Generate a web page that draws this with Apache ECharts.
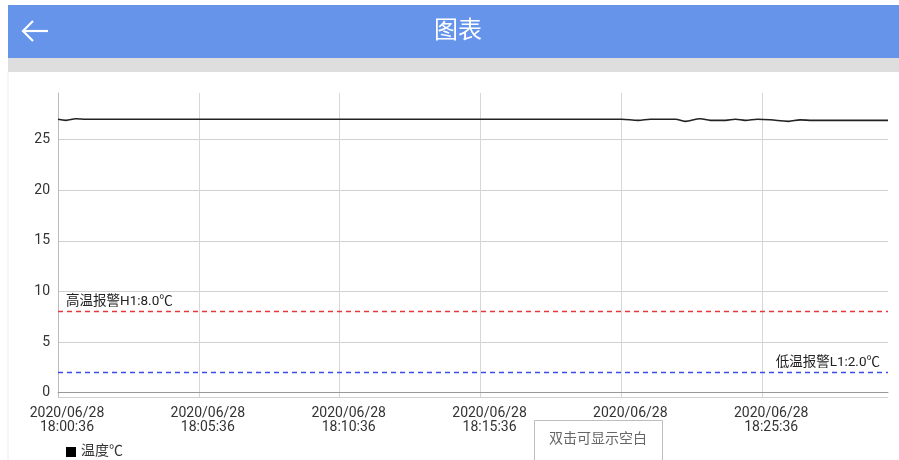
<!DOCTYPE html>
<html>
<head>
<meta charset="utf-8">
<script src="https://cdn.jsdelivr.net/npm/echarts@6/dist/echarts.min.js"></script>
<style>
html,body{margin:0;padding:0;background:#fff;}
#c{width:899px;height:460px;}
</style>
</head>
<body>
<div id="c"></div>
<script>
// ---- data ----
var dateStr = '2020/06/28';
var times = ['18:00:36','18:00:53','18:01:14','18:01:35','18:05:36','18:10:36','18:15:36','18:20:36','18:21:12','18:21:38','18:22:31','18:22:52','18:23:24','18:23:46','18:24:18','18:24:39','18:25:00','18:25:26','18:25:53','18:26:32','18:26:57','18:27:23','18:30:04'];
var temps = [27.0,26.9,27.05,27.0,27.0,27.0,27.0,27.0,26.9,27.0,27.0,26.8,27.05,26.9,26.9,27.0,26.9,27.0,26.95,26.8,26.95,26.9,26.9];
var highAlarm = 8.0;
var lowAlarm = 2.0;
var yTickLabels = ['0','5','10','15','20','25'];
var xStart = '18:00:36';
var xEnd = '18:30:04';

function toMs(t){
  var p = t.split(':').map(Number);
  return Date.UTC(2020,5,28,p[0],p[1],p[2]);
}
function pad(n){return (n<10?'0':'')+n;}
function fmt(ms){
  var d = new Date(ms);
  return dateStr + '\n' + pad(d.getUTCHours())+':'+pad(d.getUTCMinutes())+':'+pad(d.getUTCSeconds());
}
var seriesData = times.map(function(t,i){return [toMs(t), temps[i]];});

var FONT = "Roboto, 'Noto Sans CJK SC', sans-serif";
var chart = echarts.init(document.getElementById('c'));
chart.setOption({
  animation:false,
  backgroundColor:'#fff',
  textStyle:{fontFamily:FONT},
  grid:{left:58,right:11,top:93,bottom:63,containLabel:false},
  legend:{
    left:61, top:440, icon:'rect', itemWidth:10, itemHeight:10, itemGap:6,
    textStyle:{fontSize:14,color:'#333',fontFamily:FONT},
    data:[{name:'温度℃', itemStyle:{color:'#000'}}]
  },
  xAxis:{
    type:'value',
    min:toMs(xStart), max:toMs(xEnd), interval:300000,
    axisLine:{show:true,lineStyle:{color:'#999',width:1}},
    axisTick:{show:false},
    splitLine:{show:true,showMaxLine:false,lineStyle:{color:'#d6d6d6',width:1}},
    axisLabel:{
      show:true, margin:9, showMaxLabel:false,
      fontSize:14, color:'#333', lineHeight:14, fontFamily:FONT,
      padding:[0,0,0,18],
      formatter:function(v){return fmt(v);}
    }
  },
  yAxis:{
    type:'value', min:-0.43, max:29.6,
    axisLine:{show:true,lineStyle:{color:'#bbb'}},
    axisTick:{show:false},
    splitLine:{show:true,showMaxLine:false,lineStyle:{color:'#d0d0d0',width:1}},
    axisLabel:{
      margin:8, fontSize:14, color:'#333', fontFamily:FONT,
      showMinLabel:false, showMaxLabel:false,
      formatter:function(v){
        var s = String(Math.round(v));
        return (Math.abs(v-Math.round(v))<1e-6 && yTickLabels.indexOf(s)>=0) ? s : '';
      }
    }
  },
  series:[{
    name:'温度℃', type:'line', data:seriesData,
    showSymbol:false, smooth:0.35,
    itemStyle:{color:'#000'},
    lineStyle:{color:'#222',width:1.6},
    markLine:{
      silent:true, symbol:'none',
      data:[
        {yAxis:highAlarm,
         lineStyle:{color:'#e8363a',type:[5,4],width:1.4},
         label:{show:true,position:'insideStartTop',distance:[8,3],formatter:'高温报警H1:'+highAlarm.toFixed(1)+'℃',color:'#222',fontSize:13.5,fontFamily:FONT}},
        {yAxis:lowAlarm,
         lineStyle:{color:'#3d4ee8',type:[5,4],width:1.4},
         label:{show:true,position:'insideEndTop',distance:[8,3],formatter:'低温报警L1:'+lowAlarm.toFixed(1)+'℃',color:'#222',fontSize:13.5,fontFamily:FONT}}
      ]
    }
  }],
  graphic:[
    {type:'rect',shape:{x:8,y:5,width:891,height:53},style:{fill:'#6594ea'},z:10},
    {type:'rect',shape:{x:8,y:58,width:891,height:14},style:{fill:'#dedede'},z:10},
    {type:'line',shape:{x1:8,y1:72,x2:8,y2:460},style:{stroke:'#ececec',lineWidth:1},z:10},
    {type:'polyline',shape:{points:[[33,21],[23,31],[33,41]]},style:{stroke:'#fff',lineWidth:2.2,fill:null},z:11},
    {type:'line',shape:{x1:23,y1:31,x2:48,y2:31},style:{stroke:'#fff',lineWidth:2.2},z:11},
    {type:'text',x:458,y:32,style:{text:'图表',fill:'#fff',fontSize:24,fontFamily:FONT,align:'center',verticalAlign:'middle'},z:11},
    {type:'rect',shape:{x:534.5,y:420.5,width:128,height:50},style:{fill:'#fff',stroke:'#bdbdbd',lineWidth:1},z:12},
    {type:'text',x:598,y:439,style:{text:'双击可显示空白',fill:'#666',fontSize:14,fontFamily:FONT,align:'center',verticalAlign:'middle'},z:13}
  ]
});
</script>
</body>
</html>
